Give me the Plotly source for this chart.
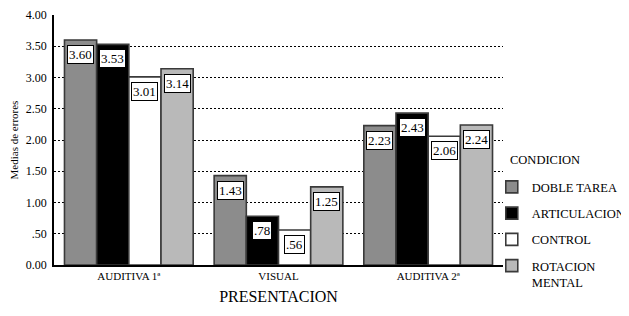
import plotly.graph_objects as go

categories = ["AUDITIVA 1ª", "VISUAL", "AUDITIVA 2ª"]
series_names = ["DOBLE TAREA", "ARTICULACION", "CONTROL", "ROTACION<br>MENTAL"]
doble_tarea = [3.60, 1.43, 2.23]
articulacion = [3.53, 0.78, 2.43]
control = [3.01, 0.56, 2.06]
rotacion_mental = [3.14, 1.25, 2.24]
series_values = [doble_tarea, articulacion, control, rotacion_mental]
colors = ["#8c8c8c", "#000000", "#ffffff", "#b9b9b9"]
y_tickvals = [0, 0.5, 1, 1.5, 2, 2.5, 3, 3.5, 4]
y_ticktext = ["0.00", ".50", "1.00", "1.50", "2.00", "2.50", "3.00", "3.50", "4.00"]

FONT = "Liberation Serif, Times New Roman, serif"
bargap = 0.14
n = len(series_values)
bar_w = (1 - bargap) / n


def fmt(v):
    s = f"{v:.2f}"
    return s[1:] if v < 1 else s


fig = go.Figure()
annotations = []
for j, (name, vals, col) in enumerate(zip(series_names, series_values, colors)):
    fig.add_trace(go.Bar(
        name=name, x=categories, y=vals,
        marker=dict(color=col, line=dict(color="#3a3a3a", width=1.6)),
        legendgroup=f"g{j}",
    ))
    for i, v in enumerate(vals):
        annotations.append(dict(
            x=i + (j - (n - 1) / 2) * bar_w, y=v, xref="x", yref="y",
            text=fmt(v), showarrow=False, yanchor="top", yshift=-5,
            font=dict(family=FONT, size=13, color="black"),
            bgcolor="white", bordercolor="black", borderwidth=1, borderpad=1,
        ))

# legend heading
annotations.append(dict(
    x=1.012, y=0.42, xref="paper", yref="paper", xanchor="left", yanchor="middle",
    text="CONDICION", showarrow=False, font=dict(family=FONT, size=12.5, color="black"),
))

fig.update_layout(
    width=621, height=308,
    margin=dict(l=46, r=126, t=7, b=51, autoexpand=False),
    paper_bgcolor="white", plot_bgcolor="white",
    barmode="group", bargap=bargap, bargroupgap=0,
    font=dict(family=FONT, color="black"),
    showlegend=True,
    legend=dict(
        x=0.975, xanchor="left", y=0.371, yanchor="top",
        font=dict(family=FONT, size=12.5, color="black"),
        traceorder="grouped", tracegroupgap=7, valign="top",
        bgcolor="rgba(0,0,0,0)", borderwidth=0,
    ),
    annotations=annotations,
    xaxis=dict(
        title=dict(text="PRESENTACION", font=dict(family=FONT, size=16), standoff=10),
        tickfont=dict(family=FONT, size=11),
        showline=True, linecolor="black", linewidth=1.5,
        ticks="", showgrid=False, range=[-0.5, 2.5],
    ),
    yaxis=dict(
        title=dict(text="Medias de errores", font=dict(family=FONT, size=11), standoff=8),
        range=[0, 4], tickvals=y_tickvals, ticktext=y_ticktext,
        tickfont=dict(family=FONT, size=12), ticklabelstandoff=3,
        showline=True, linecolor="black", linewidth=1.5,
        showgrid=True, gridcolor="black", gridwidth=1.3, griddash="2px,2px",
        zeroline=False, ticks="",
    ),
)

fig.write_html("out.html")
